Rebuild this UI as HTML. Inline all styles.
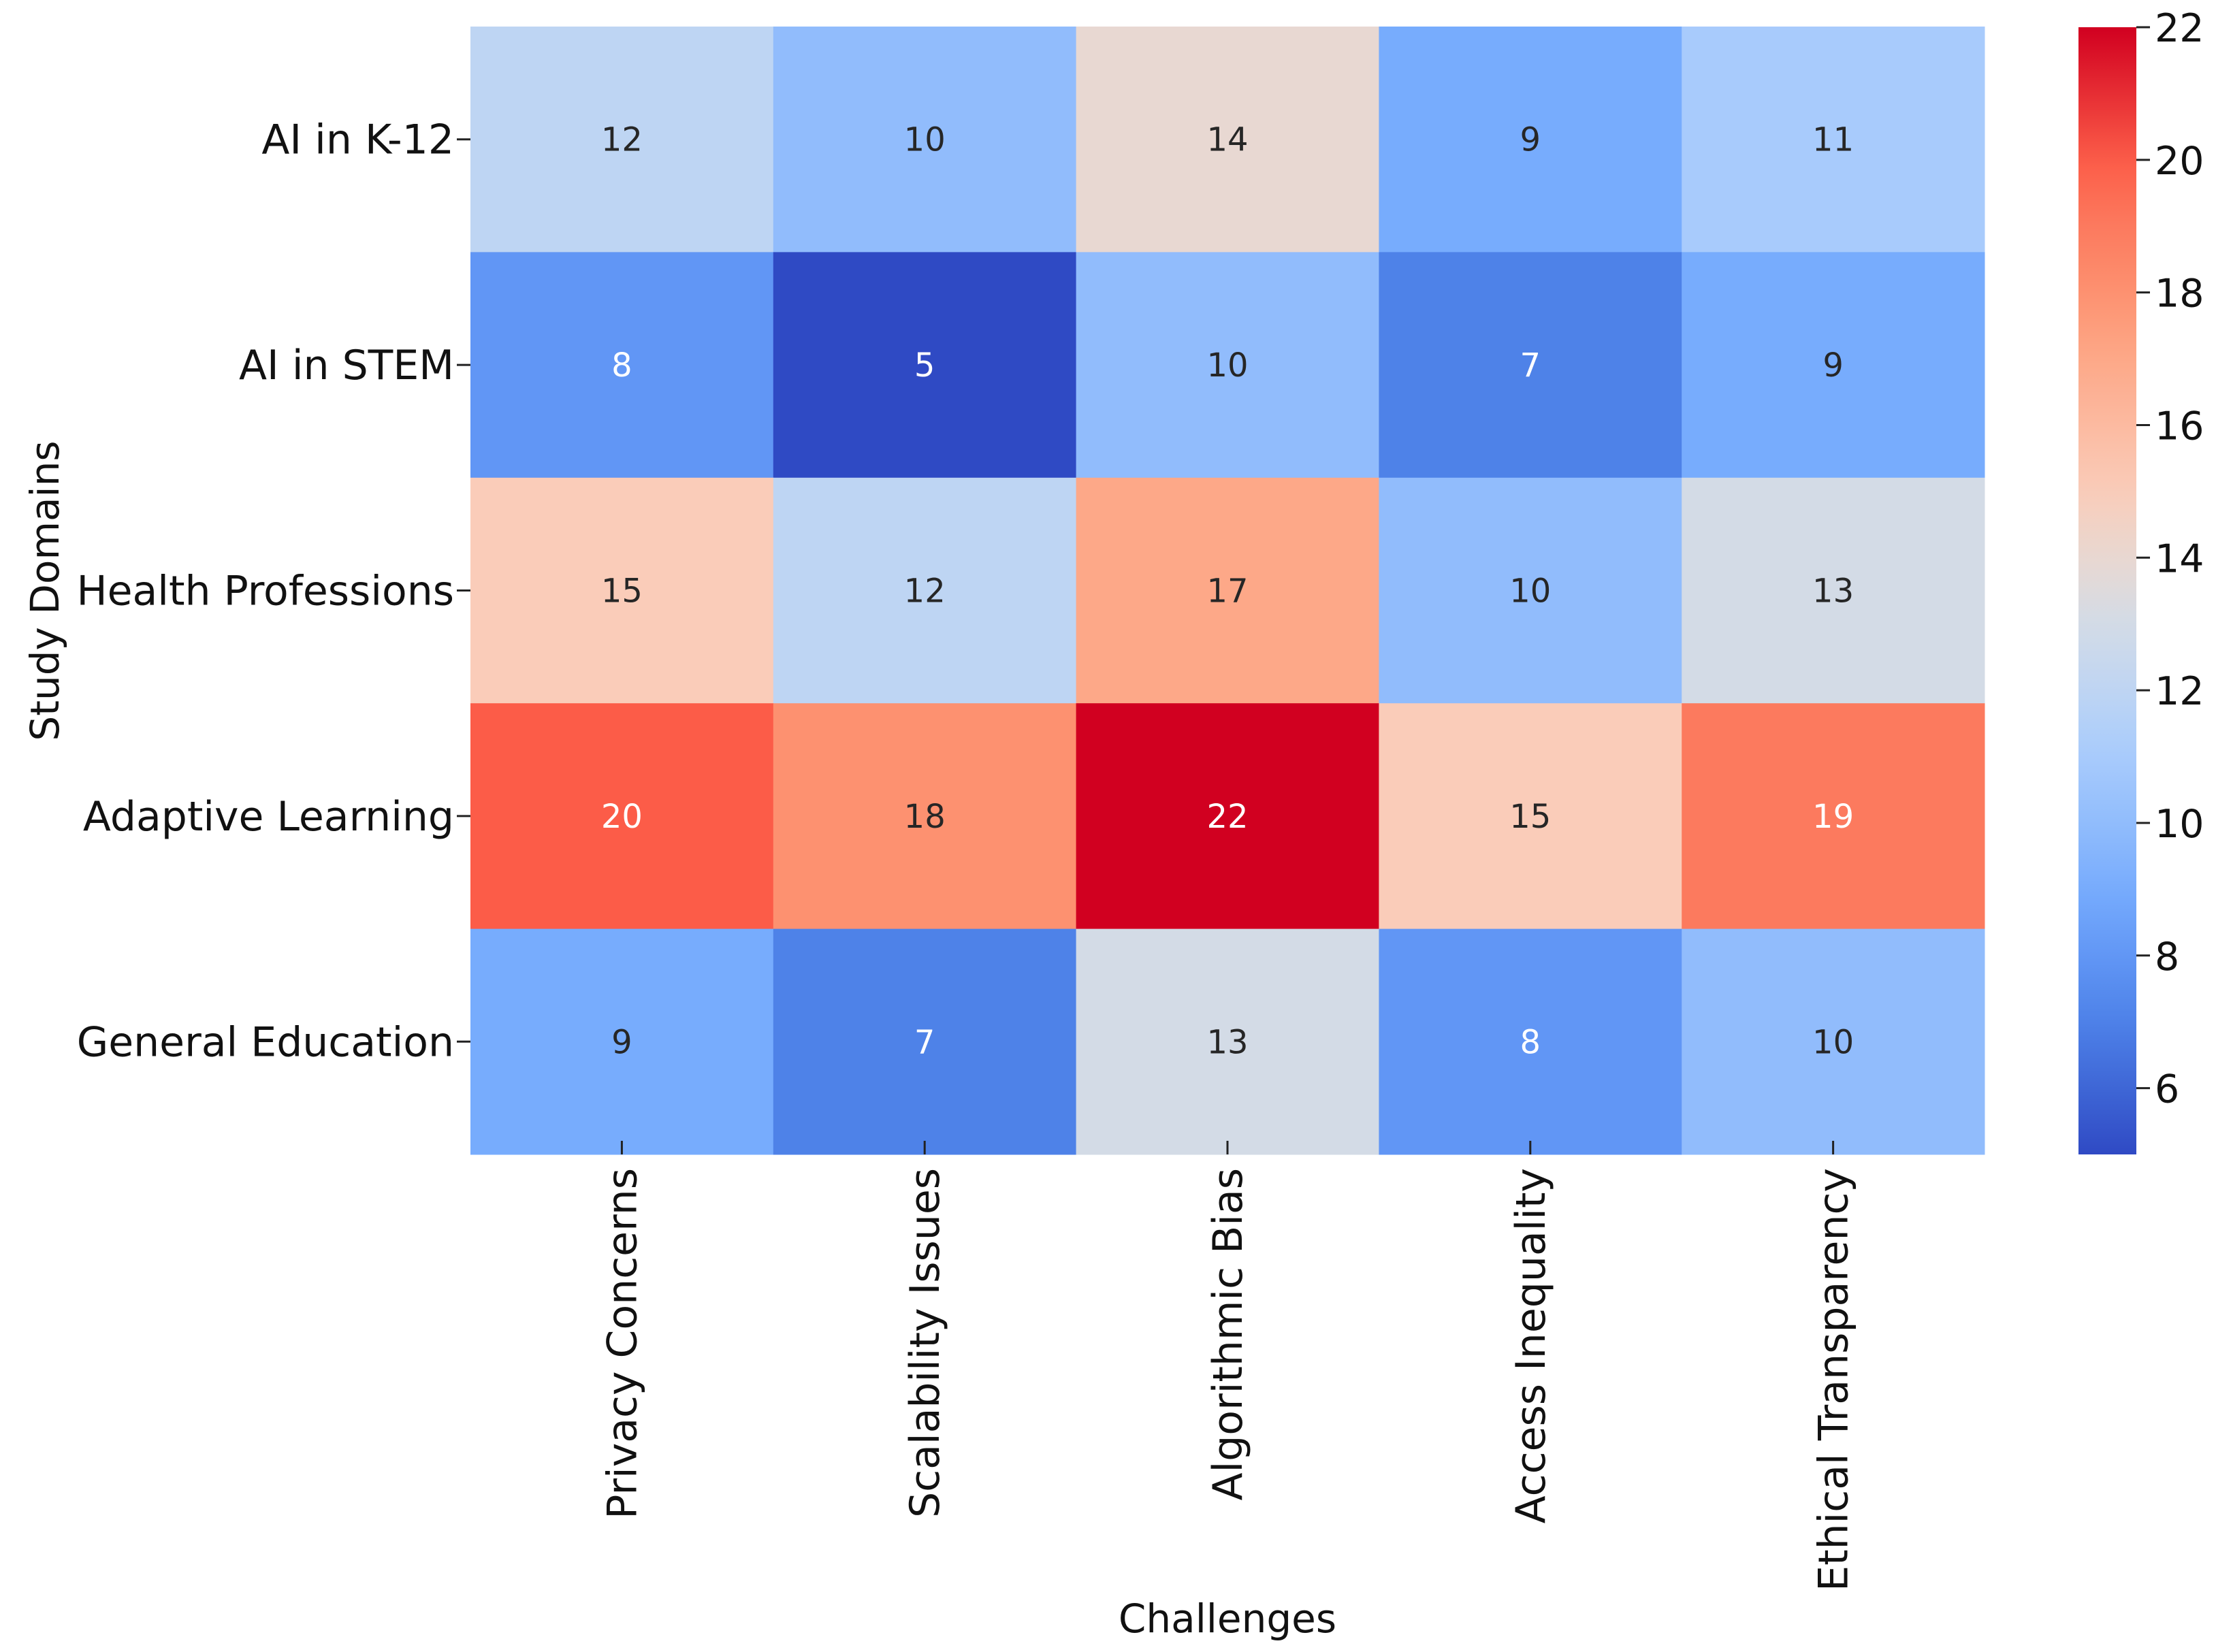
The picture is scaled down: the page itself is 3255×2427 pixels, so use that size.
<!DOCTYPE html>
<html><head><meta charset="utf-8"><style>
html,body{margin:0;padding:0;background:#fff;}
svg{display:block;}
text{font-family:"DejaVu Sans","Liberation Sans",sans-serif;}
</style></head><body>
<svg id="chart" width="3255" height="2427" viewBox="0 0 3255 2427" xmlns="http://www.w3.org/2000/svg">
<defs><linearGradient id="cbgrad" x1="0" y1="1" x2="0" y2="0"></linearGradient></defs>
<g id="cells"></g>
<g id="ylabels"></g>
<g id="xlabels"></g>
<g id="colorbar"></g>
<text x="1803" y="2398" font-size="58" text-anchor="middle" fill="#111">Challenges</text>
<text x="0" y="0" font-size="58" text-anchor="middle" fill="#111" transform="translate(86,868) rotate(-90)">Study Domains</text>
</svg>
<script>
const rows = ["AI in K-12","AI in STEM","Health Professions","Adaptive Learning","General Education"];
const cols = ["Privacy Concerns","Scalability Issues","Algorithmic Bias","Access Inequality","Ethical Transparency"];
const values = [
  [12,10,14,9,11],
  [8,5,10,7,9],
  [15,12,17,10,13],
  [20,18,22,15,19],
  [9,7,13,8,10]
];
const cbTicks = [6,8,10,12,14,16,18,20,22];
const vmin = 5, vmax = 22;

const NS = "http://www.w3.org/2000/svg";
const L = 691, T = 39, R = 2915, B = 1696;
const cw = (R - L) / cols.length, ch = (B - T) / rows.length;
function xPos(i){ return L + i * cw; }
function yPos(j){ return T + j * ch; }
const cmap = [
  [0.000,[47,74,196]],[0.118,[78,130,232]],[0.176,[97,150,245]],[0.235,[119,172,253]],
  [0.294,[145,188,252]],[0.353,[168,203,252]],[0.412,[190,213,243]],[0.471,[211,219,230]],
  [0.529,[232,216,210]],[0.588,[250,204,185]],[0.706,[253,168,136]],[0.765,[253,145,112]],
  [0.824,[252,122,94]],[0.882,[252,92,72]],[1.000,[209,0,32]]
];
function color(v){
  let t = Math.max(0, Math.min(1, (v - vmin) / (vmax - vmin)));
  for (let k = 1; k < cmap.length; k++){
    if (t <= cmap[k][0]){
      const a = cmap[k-1], b = cmap[k], f = (t - a[0]) / (b[0] - a[0]);
      return a[1].map((c,i)=>Math.round(c + (b[1][i]-c)*f));
    }
  }
  return cmap[cmap.length-1][1];
}
function lum(c){ const s=c.map(x=>{x/=255;return x<=0.03928?x/12.92:Math.pow((x+0.055)/1.055,2.4);}); return 0.2126*s[0]+0.7152*s[1]+0.0722*s[2]; }
function el(tag, attrs, parent){ const e=document.createElementNS(NS,tag); for(const k in attrs) e.setAttribute(k,attrs[k]); parent.appendChild(e); return e; }

const gc = document.getElementById("cells");
values.forEach((row,j)=>row.forEach((v,i)=>{
  const c = color(v);
  const r = el("rect",{x:xPos(i),y:yPos(j),width:cw+0.5,height:ch+0.5,fill:`rgb(${c.join(",")})`},gc);
  
  
  const t = el("text",{x:xPos(i)+cw/2,y:yPos(j)+ch/2+17,"font-size":"48","text-anchor":"middle",fill:lum(c)<0.36?"#fff":"#262626"},gc);
  t.textContent = v;
  
  
}));
const gy = document.getElementById("ylabels");
rows.forEach((name,j)=>{
  const y = yPos(j)+ch/2;
  el("line",{x1:L-20,x2:L,y1:y,y2:y,stroke:"#222","stroke-width":"3"},gy);
  const t = el("text",{x:L-24,y:y+21,"font-size":"60","text-anchor":"end",fill:"#111"},gy);
  t.textContent = name;
  
  
});
const gx = document.getElementById("xlabels");
cols.forEach((name,i)=>{
  const x = xPos(i)+cw/2;
  el("line",{x1:x,x2:x,y1:B-20,y2:B,stroke:"#222","stroke-width":"3"},gx);
  const t = el("text",{x:0,y:0,"font-size":"60","text-anchor":"end",fill:"#111",transform:`translate(${x+21},${B+20}) rotate(-90)`},gx);
  t.textContent = name;
  
  
});
const grad = document.getElementById("cbgrad");
for (let k=0;k<=40;k++){ const v=vmin+(vmax-vmin)*k/40; const c=color(v); el("stop",{offset:(k/40).toFixed(3),"stop-color":`rgb(${c.join(",")})`},grad); }
const gcb = document.getElementById("colorbar");
const cbL=3053, cbR=3138, cbT=40, cbB=1696;
function cbY(v){ return cbB - (v - vmin)/(vmax - vmin)*(cbB-cbT); }
const bar = el("rect",{x:cbL,y:cbT,width:cbR-cbL,height:cbB-cbT,fill:"url(#cbgrad)"},gcb);


cbTicks.forEach(v=>{
  const y = cbY(v);
  el("line",{x1:cbR,x2:cbR+20,y1:y,y2:y,stroke:"#222","stroke-width":"3"},gcb);
  const t = el("text",{x:cbR+27,y:y+21,"font-size":"57",fill:"#111"},gcb);
  t.textContent = v;
  
  
});
</script>
</body></html>
